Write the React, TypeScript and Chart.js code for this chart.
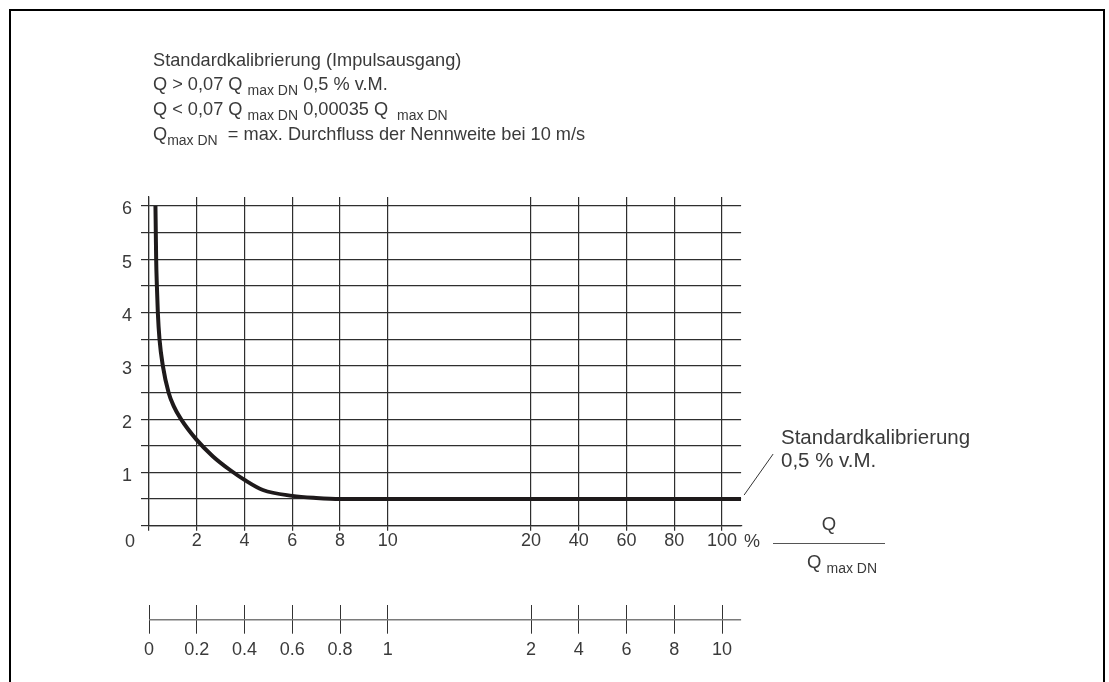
import React, { useEffect, useRef } from 'react';
import { Chart, registerables, LinearScale } from 'chart.js';

Chart.register(...registerables);

// ---- data ----
const FLOW_PCT = [0.27, 0.285, 0.3, 0.33, 0.37, 0.44, 0.58, 0.82, 1.03, 1.34, 1.98, 2.68, 3.38, 4.0, 4.77, 6.0, 7.0, 8.0, 10, 20, 100, 108];
const ERROR_PCT = [6.0, 5.5, 5.0, 4.5, 4.0, 3.5, 3.0, 2.5, 2.25, 2.0, 1.62, 1.3, 1.05, 0.86, 0.67, 0.56, 0.52, 0.5, 0.5, 0.5, 0.5, 0.5];

const X_TICKS_PCT = [0, 2, 4, 6, 8, 10, 20, 40, 60, 80, 100];
const X_LABELS = ['', '2', '4', '6', '8', '10', '20', '40', '60', '80', '100'];
const VEL_TICKS = [0, 0.2, 0.4, 0.6, 0.8, 1, 2, 4, 6, 8, 10];
const VEL_LABELS = ['0', '0.2', '0.4', '0.6', '0.8', '1', '2', '4', '6', '8', '10'];
const PCT_PER_VEL = 10; // 10 m/s = 100 %
const Y_TICKS = [0, 0.5, 1, 1.5, 2, 2.5, 3, 3.5, 4, 4.5, 5, 5.5, 6];
const Y_LABELS = ['', '', '1', '', '2', '', '3', '', '4', '', '5', '', '6'];

// piecewise axis layout of the flow axis
const Q_BREAKS = [0, 10, 20, 100];
const POS_BREAKS = [0, 5, 8, 12];

function qToPos(q: number): number {
  const n = Q_BREAKS.length;
  for (let i = 0; i < n - 1; i++) {
    if (q <= Q_BREAKS[i + 1] || i === n - 2) {
      const t = (q - Q_BREAKS[i]) / (Q_BREAKS[i + 1] - Q_BREAKS[i]);
      return POS_BREAKS[i] + t * (POS_BREAKS[i + 1] - POS_BREAKS[i]);
    }
  }
  return 0;
}
function posToQ(p: number): number {
  const n = POS_BREAKS.length;
  for (let i = 0; i < n - 1; i++) {
    if (p <= POS_BREAKS[i + 1] || i === n - 2) {
      const t = (p - POS_BREAKS[i]) / (POS_BREAKS[i + 1] - POS_BREAKS[i]);
      return Q_BREAKS[i] + t * (Q_BREAKS[i + 1] - Q_BREAKS[i]);
    }
  }
  return 0;
}

class FlowScale extends LinearScale {
  static id = 'flow';
  static defaults = LinearScale.defaults;
  getPixelForValue(value: number) {
    const a = qToPos(this.min);
    const span = qToPos(this.max) - a;
    return this.getPixelForDecimal((qToPos(value) - a) / span);
  }
  getValueForPixel(pixel: number) {
    const a = qToPos(this.min);
    const span = qToPos(this.max) - a;
    return posToQ(a + this.getDecimalForPixel(pixel) * span);
  }
}
Chart.register(FlowScale as any);

const FONT = '"Liberation Sans", Arial, sans-serif';
const TEXT = '#3a3a3a';
const GRID = '#2e2e2e';

const extrasPlugin = {
  id: 'extras',
  afterDraw(chart: any) {
    const { ctx, chartArea } = chart;
    const x2 = chart.scales.x2;
    const y = chart.scales.y;
    ctx.save();
    const yLine = x2.top + 15;
    ctx.strokeStyle = '#7a7a7a';
    ctx.lineWidth = 1.5;
    ctx.beginPath();
    ctx.moveTo(x2.getPixelForValue(0), yLine);
    ctx.lineTo(x2.right, yLine);
    ctx.stroke();
    const y05 = y.getPixelForValue(0.5);
    ctx.strokeStyle = '#333';
    ctx.lineWidth = 1;
    ctx.beginPath();
    ctx.moveTo(chartArea.right + 3, y05 - 4);
    ctx.lineTo(chartArea.right + 32, y05 - 45);
    ctx.stroke();
    ctx.restore();
  },
};

const sub = (t: string) => (
  <span style={{ fontSize: 14, position: 'relative', top: 5 }}>{t}</span>
);

export default function App() {
  const ref = useRef<HTMLCanvasElement>(null);
  useEffect(() => {
    if (!ref.current) return;
    const tickFont = { family: FONT, size: 18 };
    const chart = new Chart(ref.current, {
      type: 'line',
      data: {
        datasets: [
          {
            data: FLOW_PCT.map((q, i) => ({ x: q, y: ERROR_PCT[i] })),
            borderColor: '#1e1a1b',
            borderWidth: 4,
            borderCapStyle: 'butt',
            pointRadius: 0,
            cubicInterpolationMode: 'monotone',
            fill: false,
            xAxisID: 'x',
            yAxisID: 'y',
          },
        ],
      },
      options: {
        responsive: false,
        maintainAspectRatio: false,
        animation: false,
        events: [],
        layout: { padding: { left: 0, top: 197, right: 367.9, bottom: 7.3 } },
        plugins: { legend: { display: false }, tooltip: { enabled: false } },
        scales: {
          x: {
            type: 'flow' as any,
            position: 'bottom',
            weight: 0,
            min: 0,
            max: 108,
            afterBuildTicks: (s: any) => {
              s.ticks = X_TICKS_PCT.map((v) => ({ value: v }));
            },
            afterFit: (s: any) => {
              s.height = 79;
            },
            grid: { color: GRID, lineWidth: 1.2, drawTicks: true, tickLength: 5, tickColor: GRID },
            border: { display: true, color: GRID, width: 1.2 },
            ticks: {
              autoSkip: false,
              maxRotation: 0,
              padding: 0,
              color: TEXT,
              font: tickFont,
              callback: (_v: any, i: number) => X_LABELS[i],
            },
          },
          x2: {
            type: 'flow' as any,
            position: 'bottom',
            weight: 1,
            min: 0,
            max: 108,
            afterBuildTicks: (s: any) => {
              s.ticks = VEL_TICKS.map((v) => ({ value: v * PCT_PER_VEL }));
            },
            afterFit: (s: any) => {
              s.height = 70;
            },
            grid: { drawOnChartArea: false, drawTicks: true, tickLength: 29, tickColor: '#333', lineWidth: 1 },
            border: { display: false },
            ticks: {
              autoSkip: false,
              maxRotation: 0,
              padding: 6,
              color: TEXT,
              font: tickFont,
              callback: (_v: any, i: number) => VEL_LABELS[i],
            },
          },
          y: {
            type: 'linear',
            min: 0,
            max: 6.169,
            afterBuildTicks: (s: any) => {
              s.ticks = Y_TICKS.map((v) => ({ value: v }));
            },
            afterFit: (s: any) => {
              s.width = 149;
            },
            grid: { color: GRID, lineWidth: 1.2, drawTicks: true, tickLength: 8, tickColor: GRID },
            border: { display: true, color: GRID, width: 1.2 },
            ticks: {
              autoSkip: false,
              padding: 9,
              labelOffset: 3.5,
              color: TEXT,
              font: tickFont,
              callback: (_v: any, i: number) => Y_LABELS[i],
            },
          },
        },
      } as any,
      plugins: [extrasPlugin],
    });
    return () => chart.destroy();
  }, []);

  return (
    <div
      style={{
        position: 'absolute',
        left: 0,
        top: 0,
        width: 1109,
        height: 682,
        overflow: 'hidden',
        background: '#fff',
        fontFamily: FONT,
        color: TEXT,
      }}
    >
      <div
        style={{
          position: 'absolute',
          left: 9,
          top: 9,
          width: 1092,
          height: 720,
          borderLeft: '2px solid #000',
          borderTop: '2px solid #000',
          borderRight: '2px solid #000',
        }}
      />
      <canvas ref={ref} width={1109} height={682} style={{ position: 'absolute', left: 0, top: 0 }} />
      <div
        style={{
          position: 'absolute',
          left: 153,
          top: 48,
          fontSize: 18.2,
          lineHeight: '24px',
          whiteSpace: 'pre',
        }}
      >
        <div>Standardkalibrierung (Impulsausgang)</div>
        <div>
          Q &gt; 0,07 Q {sub('max DN')} 0,5 % v.M.
        </div>
        <div>
          Q &lt; 0,07 Q {sub('max DN')} 0,00035 Q {sub(' max DN')}
        </div>
        <div>
          Q{sub('max DN')}{'  '}= max. Durchfluss der Nennweite bei 10 m/s
        </div>
      </div>
      <div
        style={{
          position: 'absolute',
          left: 781,
          top: 425,
          fontSize: 20.5,
          lineHeight: '23px',
          whiteSpace: 'pre',
        }}
      >
        <div>Standardkalibrierung</div>
        <div>0,5 % v.M.</div>
      </div>
      <div style={{ position: 'absolute', left: 125, top: 529, fontSize: 18, lineHeight: '24px' }}>0</div>
      <div style={{ position: 'absolute', left: 744, top: 529, fontSize: 18, lineHeight: '24px' }}>%</div>
      <div
        style={{
          position: 'absolute',
          left: 773,
          top: 512,
          width: 112,
          textAlign: 'center',
          fontSize: 18.5,
          lineHeight: '24px',
        }}
      >
        Q
      </div>
      <div style={{ position: 'absolute', left: 773, top: 543, width: 112, height: 1, background: '#555' }} />
      <div
        style={{
          position: 'absolute',
          left: 807,
          top: 550,
          fontSize: 18.5,
          lineHeight: '24px',
          whiteSpace: 'pre',
        }}
      >
        Q {sub('max DN')}
      </div>
    </div>
  );
}
